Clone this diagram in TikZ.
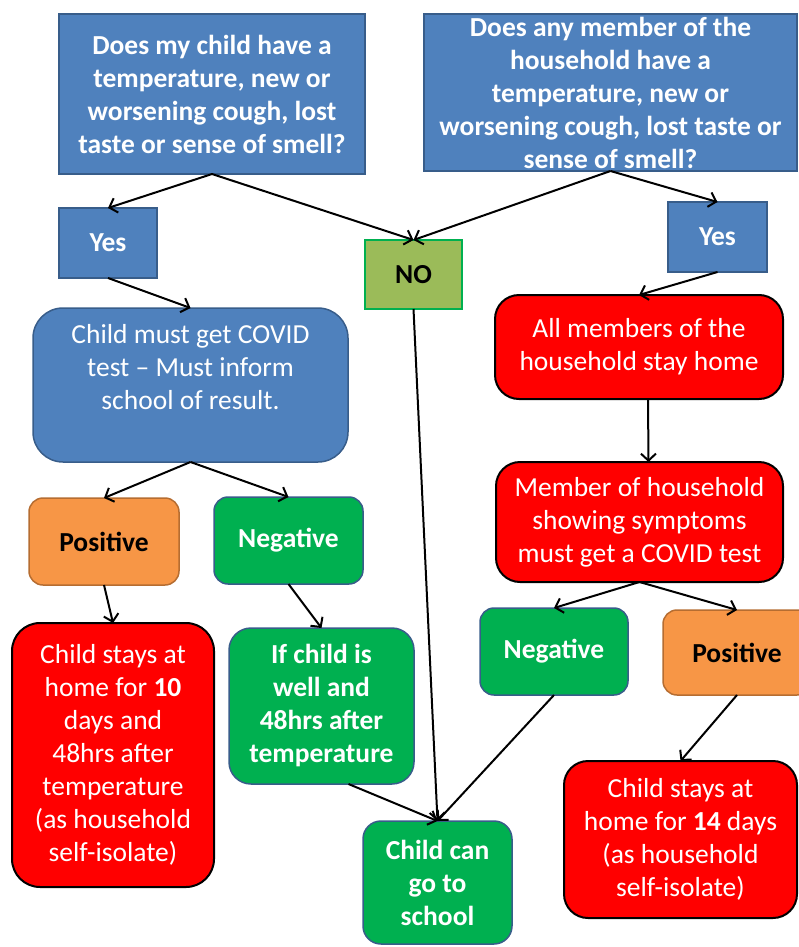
\documentclass[tikz,border=0pt]{standalone}
\usepackage{fontspec}
\setmainfont{Carlito}
\usetikzlibrary{arrows.meta}
\definecolor{boxblue}{HTML}{4F81BD}
\definecolor{edgeblue}{HTML}{385D8A}
\definecolor{boxgreen}{HTML}{00B050}
\definecolor{boxolive}{HTML}{9BBB59}
\definecolor{boxorange}{HTML}{F79646}
\definecolor{edgeorange}{HTML}{B66D31}
\tikzset{
box/.style={inner sep=0pt, outer sep=0pt, align=center, line width=1.5pt, font=\fontsize{27.5}{33}\selectfont},
bold/.style={font=\fontsize{27.5}{33}\selectfont\bfseries},
bluebox/.style={box, fill=boxblue, draw=edgeblue, text=white},
redbox/.style={box, fill=red, draw=black, text=white, rounded corners=24pt, line width=2pt},
greenbox/.style={box, bold, fill=boxgreen, draw=edgeblue, text=white, rounded corners=14pt},
orangebox/.style={box, bold, fill=boxorange, draw=edgeorange, text=black, rounded corners=14pt},
flow/.style={-{Straight Barb[length=7pt,width=15pt]}, line width=2pt}
}
\begin{document}
\begin{tikzpicture}[x=1pt,y=-1pt]
\useasboundingbox (0,0) rectangle (799,947);

% questions
\node[bluebox, bold, minimum width=306, minimum height=160] (q1) at (212,94) {Does my child have a\\temperature, new or\\worsening cough, lost\\taste or sense of smell?};
\node[bluebox, bold, minimum width=373, minimum height=157] (q2) at (610.5,92.5) {Does any member of the\\household have a\\temperature, new or\\worsening cough, lost taste or\\sense of smell?};

\node[bluebox, bold, minimum width=98, minimum height=70] (yesL) at (108,243) {Yes};
\node[box, bold, fill=boxolive, draw=boxgreen, minimum width=97, minimum height=69] (no) at (413.5,274.5) {NO};
\node[bluebox, bold, minimum width=99, minimum height=70] (yesR) at (717.5,237) {Yes};

% child branch
\node[bluebox, rounded corners=30pt, minimum width=315, minimum height=154, text depth=36pt] (test) at (190.5,385) {Child must get COVID\\test -- Must inform\\school of result.};
\node[orangebox, minimum width=150, minimum height=87] (posL) at (104,541.5) {Positive};
\node[greenbox, minimum width=149, minimum height=87] (negL) at (288.5,540.5) {Negative};
\node[redbox, rounded corners=28pt, minimum width=202, minimum height=264] (home10) at (113,755) {Child stays at\\home for \textbf{10}\\days and\\48hrs after\\temperature\\(as household\\self-isolate)};
\node[greenbox, rounded corners=22pt, minimum width=185, minimum height=156] (well) at (321.5,706) {If child is\\well and\\48hrs after\\temperature};
\node[greenbox, rounded corners=18pt, minimum width=149, minimum height=123] (school) at (437.5,882.5) {Child can\\go to\\school};

% household branch
\node[redbox, minimum width=288, minimum height=104] (stay) at (639,347) {All members of the\\household stay home};
\node[redbox, minimum width=287, minimum height=120] (member) at (639.5,522) {Member of household\\showing symptoms\\must get a COVID test};
\node[greenbox, minimum width=148, minimum height=87] (negR) at (554,651.5) {Negative};
\node[orangebox, minimum width=148, minimum height=85] (posR) at (737,652.5) {Positive};
\node[redbox, minimum width=233, minimum height=157] (home14) at (680.5,839.5) {Child stays at\\home for \textbf{14} days\\(as household\\self-isolate)};

\draw[flow] (q1.south) -- (yesL.north);
\draw[flow] (q1.south) -- (no.north);
\draw[flow] (q2.south) -- (no.north);
\draw[flow] (q2.south) -- (yesR.north);
\draw[flow] (yesL.south) -- (test.north);
\draw[flow] (yesR.south) -- (stay.north);
\draw[flow] (test.south) -- (posL.north);
\draw[flow] (test.south) -- (negL.north);
\draw[flow] ([xshift=9pt]stay.south) -- ([xshift=9pt]member.north);
\draw[flow] (member.south) -- (negR.north);
\draw[flow] (member.south) -- (posR.north);
\draw[flow] (posL.south) -- (home10.north);
\draw[flow] (negL.south) -- (well.north);
\draw[flow] ([xshift=27pt]well.south) -- (school.north);
\draw[flow] (no.south) -- (school.north);
\draw[flow] (negR.south) -- (school.north);
\draw[flow] (posR.south) -- (home14.north);
\end{tikzpicture}
\end{document}
